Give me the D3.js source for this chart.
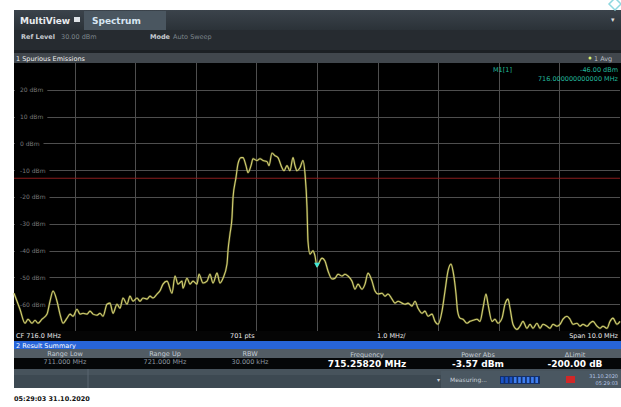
<!DOCTYPE html>
<html><head><meta charset="utf-8">
<script src="https://cdn.jsdelivr.net/npm/d3@7"></script>
<style>
html,body{margin:0;padding:0;background:#fff;}
svg{display:block;font-family:"DejaVu Sans",Verdana,sans-serif;}
</style></head><body><svg id="c" width="621" height="407"></svg>
<script>
// ---- data ----
const trace = [
[711.000,-55.9],[711.099,-61.9],[711.182,-67.1],[711.231,-65.6],[711.297,-67.1],[711.347,-66.0],
[711.396,-67.1],[711.462,-65.6],[711.545,-63.7],[711.594,-58.9],[711.644,-55.1],[711.710,-58.9],
[711.759,-63.7],[711.809,-67.1],[711.875,-65.2],[711.924,-63.7],[711.974,-64.5],[712.040,-61.9],
[712.089,-63.7],[712.139,-63.4],[712.205,-63.7],[712.254,-62.6],[712.304,-63.7],[712.370,-64.1],
[712.419,-63.4],[712.469,-64.5],[712.535,-60.0],[712.584,-59.6],[712.634,-63.4],[712.700,-60.0],
[712.749,-61.5],[712.799,-57.7],[712.865,-60.0],[712.914,-57.0],[712.964,-58.9],[713.030,-57.7],
[713.079,-58.9],[713.129,-57.7],[713.195,-58.1],[713.244,-57.0],[713.294,-57.7],[713.360,-56.2],
[713.409,-55.0],[713.459,-52.5],[713.525,-51.4],[713.607,-55.9],[713.657,-49.5],[713.706,-52.5],
[713.772,-51.4],[713.789,-54.0],[713.855,-50.3],[713.904,-52.5],[713.954,-51.4],[714.020,-52.5],
[714.053,-48.8],[714.119,-52.1],[714.185,-51.4],[714.234,-48.8],[714.284,-52.1],[714.350,-48.4],
[714.399,-52.1],[714.449,-50.3],[714.515,-45.0],[714.531,-40.1],[714.564,-33.8],[714.597,-27.8],
[714.614,-20.3],[714.663,-12.8],[714.696,-7.6],[714.746,-5.3],[714.779,-5.3],[714.828,-8.3],
[714.861,-10.9],[714.911,-8.3],[714.944,-5.7],[715.010,-6.4],[715.059,-5.7],[715.109,-6.4],
[715.175,-6.8],[715.208,-8.3],[715.257,-3.6],[715.307,-4.6],[715.356,-5.3],[715.422,-9.1],
[715.455,-10.2],[715.505,-8.3],[715.554,-10.2],[715.604,-5.3],[715.637,-8.3],[715.670,-10.2],
[715.719,-9.1],[715.769,-6.4],[715.802,-11.3],[715.835,-24.0],[715.851,-36.4],[715.884,-41.3],
[715.934,-40.1],[715.967,-42.0],[716.000,-46.0],[716.033,-44.5],[716.083,-42.8],[716.132,-43.9],
[716.182,-47.6],[716.248,-50.6],[716.297,-50.3],[716.347,-48.8],[716.413,-49.5],[716.462,-48.8],
[716.512,-49.5],[716.578,-51.4],[716.627,-54.4],[716.677,-52.5],[716.743,-54.4],[716.792,-52.5],
[716.842,-48.4],[716.908,-51.4],[716.957,-55.1],[717.007,-56.2],[717.073,-55.9],[717.122,-57.0],
[717.172,-56.2],[717.238,-58.1],[717.287,-59.6],[717.337,-58.9],[717.403,-59.6],[717.452,-60.0],
[717.502,-59.6],[717.568,-60.7],[717.617,-58.9],[717.667,-61.5],[717.733,-63.4],[717.782,-62.6],
[717.832,-64.5],[717.898,-63.7],[717.947,-66.4],[717.997,-67.5],[718.063,-62.6],[718.112,-55.1],
[718.162,-47.6],[718.211,-45.0],[718.244,-47.6],[718.294,-56.2],[718.320,-62.6],[718.360,-65.2],
[718.409,-65.6],[718.475,-67.1],[718.525,-66.4],[718.574,-66.0],[718.640,-65.6],[718.690,-66.4],
[718.739,-61.5],[718.789,-56.2],[718.822,-60.0],[718.888,-66.4],[718.937,-65.6],[718.987,-67.1],
[719.053,-65.2],[719.102,-60.0],[719.152,-58.1],[719.185,-61.5],[719.234,-67.5],[719.300,-69.4],
[719.350,-68.2],[719.399,-66.4],[719.465,-69.0],[719.515,-67.5],[719.564,-69.0],[719.630,-67.1],
[719.680,-69.0],[719.729,-67.5],[719.795,-68.2],[719.845,-69.0],[719.894,-67.5],[719.960,-68.2],
[720.010,-67.5],[720.059,-65.6],[720.125,-64.5],[720.175,-65.6],[720.224,-67.5],[720.290,-67.1],
[720.340,-68.2],[720.389,-67.5],[720.455,-68.2],[720.505,-67.1],[720.554,-66.4],[720.620,-68.2],
[720.670,-69.0],[720.719,-68.2],[720.785,-69.0],[720.835,-66.4],[720.884,-65.2],[720.950,-67.5],
[721.000,-66.4]
];
const freqDomain = [711, 721];
const levelDomain = [-70, 30];
const freqGrid = [712,713,714,715,716,717,718,719,720];
const levelGrid = [20,10,0,-10,-20,-30,-40,-50,-60];
const levelLabels = ["20 dBm","10 dBm","0 dBm","-10 dBm","-20 dBm","-30 dBm","-40 dBm","-50 dBm","-60 dBm"];
const limitLevel = -13;
const marker = {freq: 716.0, level: -46.0};
const summaryHeaders = ["Range Low","Range Up","RBW","Frequency","Power Abs","\u0394Limit"];
const summaryValues = ["711.000 MHz","721.000 MHz","30.000 kHz","715.25820 MHz","-3.57 dBm","-200.00 dB"];
const footerLabels = ["CF 716.0 MHz","701 pts","1.0 MHz/","Span 10.0 MHz"];

// ---- layout ----
const svg = d3.select("#c");
const P = {l:14, r:620, t:63, b:331};
const x = d3.scaleLinear().domain(freqDomain).range([P.l, P.r]);
const y = d3.scaleLinear().domain(levelDomain).range([P.b, P.t]);

svg.append("rect").attr("width",621).attr("height",407).attr("fill","#fff");
// instrument screen background
svg.append("rect").attr("x",14).attr("y",10).attr("width",607).attr("height",378).attr("fill","#24292e");

// header bar
const hg = svg.append("defs").append("linearGradient").attr("id","hg").attr("x1",0).attr("y1",0).attr("x2",0).attr("y2",1);
hg.append("stop").attr("offset","0").attr("stop-color","#3b434b");
hg.append("stop").attr("offset","1").attr("stop-color","#2b3238");
svg.append("rect").attr("x",14).attr("y",10).attr("width",607).attr("height",20).attr("fill","url(#hg)");
svg.append("rect").attr("x",84).attr("y",11).attr("width",82).attr("height",19).attr("fill","#4a5660");
svg.append("text").attr("x",20).attr("y",24).attr("fill","#e8ecef").attr("font-size",9).attr("font-weight","bold").text("MultiView");
svg.append("rect").attr("x",74).attr("y",17).attr("width",6).attr("height",5).attr("fill","#e0e4e8");
svg.append("text").attr("x",92).attr("y",24).attr("fill","#d8e6f2").attr("font-size",9).attr("font-weight","bold").text("Spectrum");
svg.append("text").attr("x",611).attr("y",22).attr("fill","#ddd").attr("font-size",7).text("\u25be");
// corner icon
svg.append("path").attr("d","M609,4 L615,-2 L621,4 L615,10 Z").attr("fill","none").attr("stroke","#8fd8e0").attr("stroke-width",1.5);

// ref level row
svg.append("rect").attr("x",14).attr("y",30).attr("width",607).attr("height",20).attr("fill","#262b30");
svg.append("text").attr("x",21).attr("y",39).attr("fill","#c8ccd0").attr("font-size",6.5).attr("font-weight","bold").text("Ref Level");
svg.append("text").attr("x",61).attr("y",39).attr("fill","#7d858c").attr("font-size",6.5).text("30.00 dBm");
svg.append("text").attr("x",150).attr("y",39).attr("fill","#c8ccd0").attr("font-size",6.5).attr("font-weight","bold").text("Mode");
svg.append("text").attr("x",173).attr("y",39).attr("fill","#7d858c").attr("font-size",6.5).text("Auto Sweep");
svg.append("rect").attr("x",14).attr("y",50).attr("width",607).attr("height",3).attr("fill","#1c2024");

// title bar
svg.append("rect").attr("x",14).attr("y",53).attr("width",607).attr("height",10).attr("fill","#41474d");
svg.append("text").attr("x",16).attr("y",60.5).attr("fill","#f0f0f0").attr("font-size",6.5).text("1 Spurious Emissions");
svg.append("circle").attr("cx",590).attr("cy",58).attr("r",1.5).attr("fill","#d8f070");
svg.append("text").attr("x",594).attr("y",60.5).attr("fill","#b8bec4").attr("font-size",6.5).text("1 Avg");

// plot area
svg.append("rect").attr("x",P.l).attr("y",P.t).attr("width",P.r-P.l+1).attr("height",P.b-P.t).attr("fill","#000");
const grid = svg.append("g");
grid.append("g").attr("transform",`translate(0,${P.b})`)
  .call(d3.axisBottom(x).tickValues(freqGrid).tickSize(-(P.b-P.t)).tickFormat(""))
  .call(g=>{g.select(".domain").remove(); g.selectAll("line").attr("stroke","#4e4e4e").attr("shape-rendering","crispEdges");});
grid.append("g").attr("transform",`translate(${P.l},0)`)
  .call(d3.axisLeft(y).tickValues(levelGrid).tickSize(-(P.r-P.l)).tickFormat(""))
  .call(g=>{g.select(".domain").remove(); g.selectAll("line").attr("stroke","#4e4e4e").attr("shape-rendering","crispEdges");});

// level labels
const lab = svg.append("g");
levelGrid.forEach((v,i)=>{
  const t = lab.append("text").attr("x",20).attr("y",y(v)+2.3).attr("fill","#7a7a7a").attr("font-size",6).text(levelLabels[i]);
  const w = t.node().getComputedTextLength();
  lab.insert("rect","text").attr("x",15).attr("y",y(v)-3).attr("width",w+9).attr("height",6).attr("fill","#000");
});

// limit line
svg.append("line").attr("x1",P.l).attr("x2",P.r).attr("y1",y(limitLevel)).attr("y2",y(limitLevel))
  .attr("stroke","#8a1c1c").attr("stroke-width",1.2);

// trace
const line = d3.line().x(d=>x(d[0])).y(d=>y(d[1])).curve(d3.curveMonotoneX);
svg.append("path").datum(trace).attr("d",line).attr("fill","none").attr("stroke","#8a8a3a").attr("stroke-width",2.2).attr("opacity",0.45);
svg.append("path").datum(trace).attr("d",line).attr("fill","none").attr("stroke","#d2cf72").attr("stroke-width",1.1);

// marker
const mx = x(marker.freq), my = y(marker.level);
svg.append("path").attr("d",`M${mx-3},${my-4} L${mx+3},${my-4} L${mx},${my+1} Z`).attr("fill","#40e8d8");
svg.append("text").attr("x",493).attr("y",72).attr("fill","#22b89c").attr("font-size",6.5).text("M1[1]");
svg.append("text").attr("x",618).attr("y",72).attr("text-anchor","end").attr("fill","#22b89c").attr("font-size",6.5).text(marker.level.toFixed(2)+" dBm");
svg.append("text").attr("x",618).attr("y",81).attr("text-anchor","end").attr("fill","#22b89c").attr("font-size",6.5).text(marker.freq.toFixed(12)+" MHz");

// bottom info row
svg.append("rect").attr("x",14).attr("y",P.b).attr("width",607).attr("height",10).attr("fill","#050505");
svg.append("text").attr("x",16).attr("y",338).attr("fill","#e8e8e8").attr("font-size",6.5).text(footerLabels[0]);
svg.append("text").attr("x",230).attr("y",338).attr("fill","#e8e8e8").attr("font-size",6.5).text(footerLabels[1]);
svg.append("text").attr("x",377).attr("y",338).attr("fill","#e8e8e8").attr("font-size",6.5).text(footerLabels[2]);
svg.append("text").attr("x",618).attr("y",338).attr("text-anchor","end").attr("fill","#e8e8e8").attr("font-size",6.5).text(footerLabels[3]);

// result summary
svg.append("rect").attr("x",14).attr("y",341).attr("width",607).attr("height",8).attr("fill","#2764d8");
svg.append("text").attr("x",16).attr("y",347.5).attr("fill","#fff").attr("font-size",6.5).text("2 Result Summary");
svg.append("rect").attr("x",14).attr("y",349).attr("width",607).attr("height",9).attr("fill","#525c64");
svg.append("rect").attr("x",14).attr("y",358).attr("width",607).attr("height",11).attr("fill","#050708");
const colX = [65,165,250,367,478,575];
summaryHeaders.forEach((h,i)=>{
  svg.append("text").attr("x",colX[i]).attr("y",i<3?355.5:357).attr("text-anchor","middle").attr("fill","#c4ccd4").attr("font-size",6.5).text(h);
});
summaryValues.forEach((v,i)=>{
  const big = i>=3;
  svg.append("text").attr("x",colX[i]).attr("y",big?366.5:364).attr("text-anchor","middle")
    .attr("fill",big?"#ffffff":"#8e98a2").attr("font-size",big?9:6.5).attr("font-weight",big?"bold":"normal").text(v);
});

// status bar
svg.append("rect").attr("x",14).attr("y",369).attr("width",607).attr("height",19).attr("fill","#3d4952");
svg.append("rect").attr("x",14).attr("y",369).attr("width",607).attr("height",6).attr("fill","#47535c");
svg.append("line").attr("x1",88).attr("x2",88).attr("y1",369).attr("y2",388).attr("stroke","#5a6670");
svg.append("rect").attr("x",441).attr("y",371).attr("width",180).attr("height",17).attr("fill","#4a5761");
svg.append("text").attr("x",437).attr("y",382).attr("fill","#c8d0d8").attr("font-size",6).text("\u25be");
svg.append("text").attr("x",450).attr("y",382).attr("fill","#c8d0d8").attr("font-size",6).text("Measuring...");
svg.append("rect").attr("x",500).attr("y",376).attr("width",40).attr("height",8).attr("fill","#14306a");
for(let i=0;i<9;i++){
  svg.append("rect").attr("x",501+i*4.3).attr("y",377).attr("width",2.6).attr("height",6).attr("fill",i<3?"#1c54c8":"#3e7ef0");
}
svg.append("rect").attr("x",566).attr("y",376).attr("width",9).attr("height",7).attr("fill","#d02828");
svg.append("text").attr("x",618).attr("y",378).attr("text-anchor","end").attr("fill","#b8c8e8").attr("font-size",5).text("31.10.2020");
svg.append("text").attr("x",618).attr("y",385).attr("text-anchor","end").attr("fill","#b8c8e8").attr("font-size",5).text("05:29:03");

// footer
svg.append("text").attr("x",14).attr("y",401).attr("fill","#111").attr("font-size",6.5).attr("font-weight","bold").text("05:29:03 31.10.2020");
</script></body></html>
